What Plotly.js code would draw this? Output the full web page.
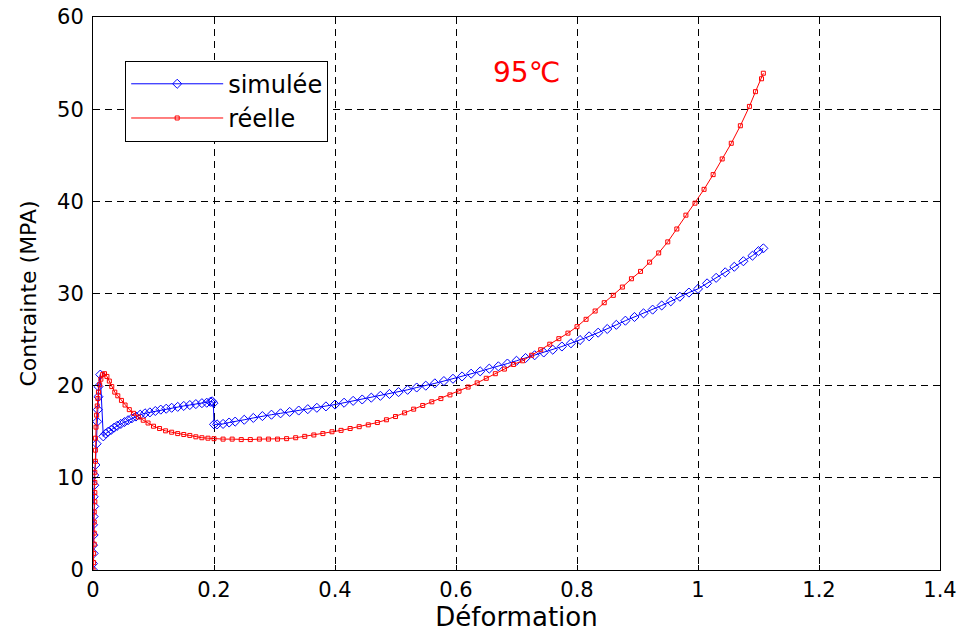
<!DOCTYPE html>
<html>
<head>
<meta charset="utf-8">
<script src="https://cdn.plot.ly/plotly-3.0.1.min.js"></script>
<style>html,body{margin:0;padding:0;background:#fff;}#chart{width:961px;height:632px;}</style>
</head>
<body>
<div id="chart"></div>
<script>
// Simulated curve (blue diamonds)
var simX = [0,0.000,0.001,0.000,0.001,0.000,0.001,0.002,0.001,0.002,0.002,0.004,0.006,0.007,0.008,0.009,0.009,0.012,
  0.017,0.021,0.025,0.030,0.035,0.040,0.046,0.052,0.058,0.064,0.071,0.078,0.086,0.094,0.103,0.112,0.121,0.130,0.140,0.150,0.160,0.170,0.180,0.188,0.194,0.197,0.199,
  0.200,0.205,0.215,0.225,0.235,0.250,0.265,0.280,0.295,0.310,0.325,0.340,0.355,0.370,0.385,0.400,0.415,0.430,0.445,0.460,0.475,0.490,0.505,0.520,0.535,0.550,0.565,0.580,0.595,0.610,0.625,0.640,0.655,0.670,0.685,0.700,0.715,0.730,0.745,0.760,0.775,0.790,0.805,0.820,0.835,0.850,0.865,0.880,0.895,0.910,0.925,0.940,0.955,0.970,0.985,1.000,1.015,1.030,1.045,1.060,1.075,1.090,1.100,1.108];
var simY = [0,0.7,1.8,2.7,3.8,4.9,5.8,6.9,7.95,9.2,10.3,11.4,13.7,16.1,17.4,18.8,19.9,21.2,
  14.5,14.8,15.0,15.2,15.45,15.65,15.85,16.05,16.25,16.45,16.65,16.85,17.0,17.1,17.25,17.4,17.5,17.6,17.7,17.8,17.9,18.0,18.1,18.15,18.25,18.3,18.1,
  15.8,15.8,15.85,16.0,16.1,16.3,16.5,16.7,16.85,17.0,17.15,17.3,17.45,17.6,17.75,17.95,18.15,18.35,18.5,18.7,18.9,19.1,19.3,19.55,19.8,20.0,20.25,20.5,20.75,21.0,21.3,21.55,21.85,22.1,22.4,22.7,23.0,23.3,23.6,23.9,24.25,24.6,24.95,25.35,25.75,26.15,26.6,27.05,27.45,27.85,28.25,28.7,29.15,29.65,30.1,30.5,31.1,31.7,32.3,32.9,33.5,34.1,34.6,34.9];

// Real curve (red squares)
var reelX = [0,0.001,0.001,0.002,0.002,0.002,0.002,0.003,0.003,0.003,0.003,0.004,0.004,0.004,0.005,0.006,0.007,0.008,0.009,0.011,0.013,0.016,0.019,
  0.023,0.027,0.031,0.036,0.041,0.047,0.053,0.060,0.067,0.075,0.083,0.091,0.100,0.110,0.120,0.130,0.140,0.150,0.160,0.170,0.180,0.190,0.200,
  0.215,0.230,0.245,0.260,0.275,0.290,0.305,0.320,0.335,0.350,0.365,0.380,0.395,0.410,0.425,0.440,0.455,0.470,0.485,0.500,0.515,0.530,0.545,0.560,0.575,0.590,0.605,0.620,0.635,0.650,0.665,0.680,0.695,
  0.710,0.725,0.740,0.755,0.770,0.785,0.800,0.815,0.830,0.845,0.860,0.875,0.890,0.905,0.920,0.935,0.950,0.965,0.980,0.995,1.010,1.025,1.040,1.055,1.070,1.085,1.095,1.105,1.108];
var reelY = [0,0.8,1.8,2.8,4.0,5.2,6.3,7.4,8.4,9.5,10.6,11.8,13.0,14.3,15.5,16.8,17.8,18.6,19.3,20.1,20.7,21.2,21.3,
  21.0,20.5,19.9,19.3,18.9,18.4,17.9,17.4,17.0,16.6,16.25,15.95,15.6,15.35,15.1,14.95,14.8,14.7,14.6,14.45,14.35,14.3,14.25,
  14.2,14.2,14.15,14.15,14.2,14.2,14.2,14.25,14.35,14.5,14.65,14.8,15.0,15.15,15.35,15.55,15.75,16.0,16.3,16.65,17.05,17.45,17.85,18.25,18.6,19.0,19.4,19.85,20.3,20.8,21.3,21.8,22.3,
  22.7,23.3,23.9,24.5,25.1,25.7,26.4,27.2,28.1,29.0,29.8,30.7,31.6,32.4,33.4,34.4,35.6,37.0,38.5,39.8,41.3,42.9,44.6,46.3,48.2,50.3,51.9,53.3,53.9];

var xTicks = [0,0.2,0.4,0.6,0.8,1,1.2,1.4];
var yTicks = [0,10,20,30,40,50,60];
var names = ['simulée','réelle'];

var FONT = 'DejaVu Sans, Liberation Sans, Arial, sans-serif';

var traces = [
  {x: simX, y: simY, name: names[0], type: 'scatter', mode: 'lines+markers',
   line: {color: '#0000ff', width: 1},
   marker: {symbol: 'diamond-open', size: 7, color: '#0000ff', line: {width: 1, color: '#0000ff'}}},
  {x: reelX, y: reelY, name: names[1], type: 'scatter', mode: 'lines+markers',
   line: {color: '#ff0000', width: 1},
   marker: {symbol: 'square-open', size: 4, color: '#ff0000', line: {width: 1, color: '#ff0000'}}}
];

var axisCommon = {
  showline: true, linecolor: '#000', linewidth: 1, mirror: 'ticks',
  ticks: 'inside', ticklen: 5, tickcolor: '#000', tickwidth: 1,
  showgrid: true, gridcolor: '#000', gridwidth: 1, griddash: '7px,5px',
  zeroline: false, tickfont: {family: FONT, size: 21, color: '#000'}
};

var layout = {
  width: 961, height: 632,
  margin: {l: 93, r: 21, t: 17, b: 62},
  paper_bgcolor: '#fff', plot_bgcolor: '#fff',
  showlegend: true,
  font: {family: FONT, color: '#000'},
  xaxis: Object.assign({}, axisCommon, {
    range: [0, 1.4], tickmode: 'array', tickvals: xTicks, ticktext: xTicks.map(String),
    ticklabelstandoff: 1,
    title: {text: 'Déformation', font: {family: FONT, size: 26, color: '#000'}, standoff: 7}
  }),
  yaxis: Object.assign({}, axisCommon, {
    range: [0, 60], tickmode: 'array', tickvals: yTicks, ticktext: yTicks.map(String),
    ticklabelstandoff: 4,
    title: {text: 'Contrainte (MPA)', font: {family: FONT, size: 22, color: '#000'}, standoff: 14}
  }),
  legend: {
    x: 0.038, y: 0.921, xanchor: 'left', yanchor: 'top',
    bgcolor: '#fff', bordercolor: '#000', borderwidth: 1,
    font: {family: FONT, size: 24, color: '#000'},
    itemwidth: 92, tracegroupgap: 0
  },
  annotations: [{
    x: 0.7165, y: 54, xref: 'x', yref: 'y', text: '95℃', showarrow: false,
    font: {family: FONT, size: 28, color: '#ff0000'}
  }]
};

Plotly.newPlot('chart', traces, layout, {displayModeBar: false, staticPlot: true});
</script>
</body>
</html>
